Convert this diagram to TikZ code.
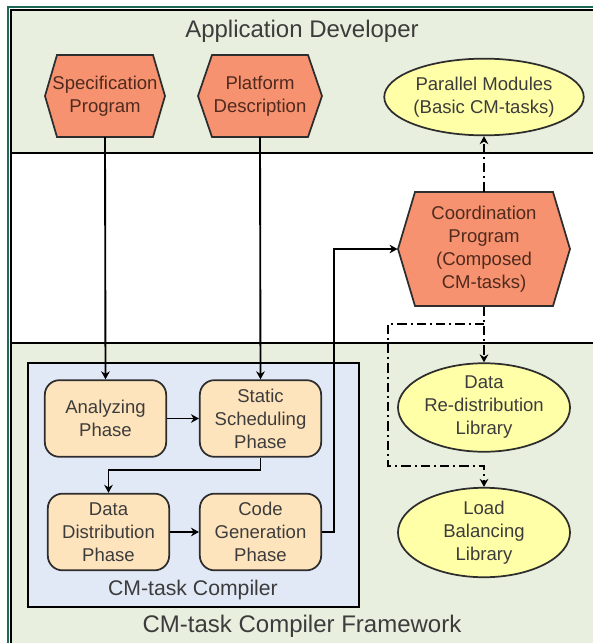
\documentclass[tikz,border=0pt]{standalone}
\usepackage{fontspec}
\setmainfont{Liberation Sans}
\usetikzlibrary{shapes.geometric,arrows.meta}

\definecolor{bandgreen}{RGB}{232,239,222}
\definecolor{framegreen}{RGB}{30,104,88}
\definecolor{hexfill}{RGB}{246,146,111}
\definecolor{phasefill}{RGB}{254,228,188}
\definecolor{libfill}{RGB}{255,255,168}
\definecolor{compfill}{RGB}{226,233,246}
\definecolor{edgegray}{RGB}{45,45,45}
\definecolor{hextextcol}{RGB}{80,42,30}
\definecolor{textgray}{RGB}{60,60,60}

\tikzset{every picture/.style={line width=0.75pt}}
\tikzset{
  hexa/.style={draw=edgegray, fill=hexfill, line width=1.3pt},
  hextext/.style={text=hextextcol, align=center, inner sep=0pt, minimum width=90pt, minimum height=61pt,
    font=\fontsize{13.9}{17.25}\selectfont},
  phase/.style={draw=edgegray, fill=phasefill, line width=1.3pt, rounded corners=11pt, align=center,
    text=textgray, inner sep=0pt, minimum width=91pt, minimum height=57.5pt, font=\fontsize{13.9}{17.25}\selectfont},
  lib/.style={draw=edgegray, fill=libfill, line width=1.3pt, ellipse, align=center, text=textgray,
    inner sep=0pt, minimum width=129pt, minimum height=57.5pt, font=\fontsize{13.9}{17.25}\selectfont},
  flow/.style={draw=black, line width=1.4pt, -{Stealth[length=6pt,width=6.5pt]}},
  dataflow/.style={draw=black, line width=1.4pt, dash pattern=on 7pt off 3pt on 1.5pt off 3pt},
  bandtitle/.style={text=textgray, anchor=base, inner sep=0pt, font=\fontsize{18}{21}\selectfont}
}

\begin{document}
\begin{tikzpicture}[x=0.75pt,y=0.75pt,yscale=-1,xscale=1]
\useasboundingbox (0,0) rectangle (593,643);

%Shape: Bands
\fill [bandgreen] (11,10) rectangle (593,153);
\fill [white] (11,153) rectangle (593,343);
\fill [bandgreen] (11,343) rectangle (593,643);
\draw [framegreen, line width=1.5pt] (8,643) -- (8,7) -- (593,7);
\draw [black, line width=1.5pt] (593,10) -- (11,10) -- (11,643);
\draw [black, line width=1.5pt] (11,153) -- (593,153);
\draw [black, line width=1.5pt] (11,343) -- (593,343);

%Shape: Compiler box
\draw [draw=black, fill=compfill, line width=1.5pt] (28,363) rectangle (359,607);

% Text Node
\node [bandtitle] (devtitle) at (302,37) {Application Developer};
% Text Node
\node [bandtitle] (fwtitle) at (302,632) {CM-task Compiler Framework};
% Text Node
\node [bandtitle, font=\fontsize{15.9}{19}\selectfont] (comptitle) at (193,595) {CM-task Compiler};

%Shape: Hexagon
\draw [hexa] (45,96) -- (57,55) -- (153,55) -- (165,96) -- (153,137) -- (57,137) -- cycle;
\node [hextext] (spec) at (105,96) {Specification\\Program};
%Shape: Hexagon
\draw [hexa] (198,96) -- (212,55) -- (308,55) -- (322,96) -- (308,137) -- (212,137) -- cycle;
\node [hextext] (platform) at (260,96) {Platform\\Description};
%Shape: Hexagon
\draw [hexa] (398,249) -- (415,192) -- (553,192) -- (570,249) -- (553,306) -- (415,306) -- cycle;
\node [hextext, minimum width=129pt, minimum height=85.5pt] (coord) at (484,249) {Coordination\\Program\\(Composed\\CM-tasks)};

%Shape: Ellipses
\node [lib] (parmod) at (484,97) {Parallel Modules\\(Basic CM-tasks)};
\node [lib] (redist) at (484,407.5) {Data\\Re-distribution\\Library};
\node [lib] (loadbal) at (484,532.5) {Load\\Balancing\\Library};

%Shape: Phases
\node [phase] (analyze) at (105.5,418.5) {Analyzing\\Phase};
\node [phase] (schedule) at (260.5,418.5) {Static\\Scheduling\\Phase};
\node [phase] (datadist) at (108.5,532) {Data\\Distribution\\Phase};
\node [phase] (codegen) at (260.5,532) {Code\\Generation\\Phase};

%Straight Lines
\draw [flow] (spec.south) -- (analyze.north);
\draw [flow] (platform.south) -- (schedule.north);
\draw [flow] (analyze.east) -- (schedule.west);
\draw [flow] (schedule.south) -- ++(0,12) -| (datadist.north);
\draw [flow] (datadist.east) -- (codegen.west);
\draw [flow] (codegen.east) -- ++(12,0) |- (coord.west);

%Dash-dot Lines
\coordinate (split) at (484,324);
\coordinate (bendA) at (388,324);
\coordinate (bendB) at (388,466);
\draw [dataflow, -{Stealth[length=6pt,width=6.5pt]}] (coord.north) -- (parmod.south);
\draw [dataflow, -{Stealth[length=6pt,width=6.5pt]}] (coord.south) -- (redist.north);
\draw [dataflow, -{Stealth[length=6pt,width=6.5pt]}] (split) -- (bendA) -- (bendB) -| (loadbal.north);

\end{tikzpicture}
\end{document}
